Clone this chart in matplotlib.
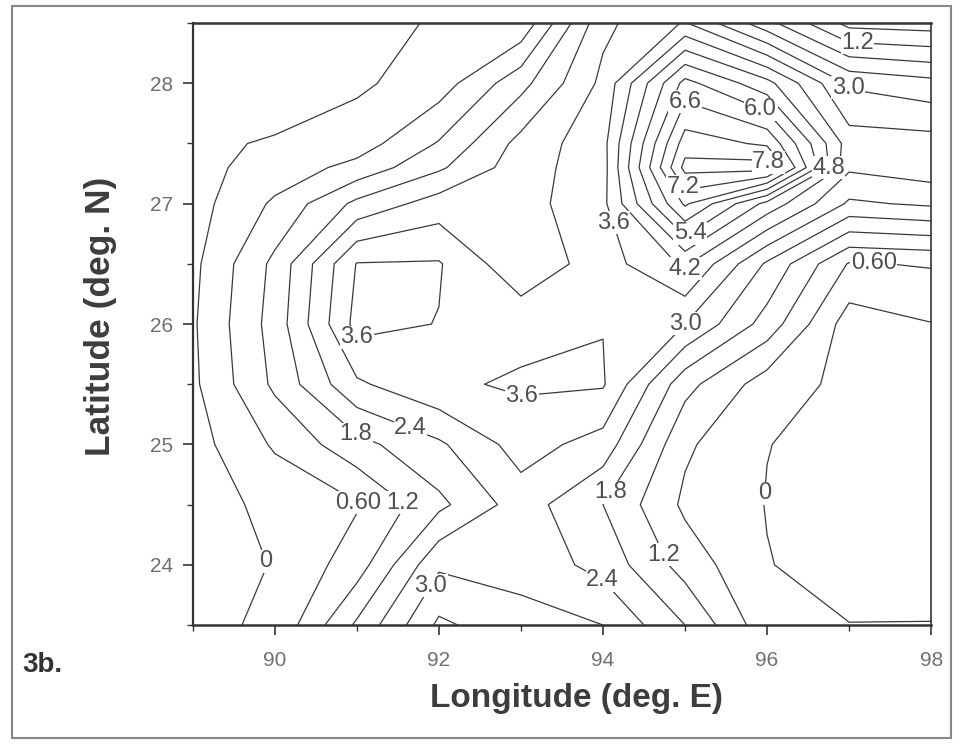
import numpy as np
import matplotlib
matplotlib.use("Agg")
import matplotlib.pyplot as plt
from matplotlib.patches import Rectangle
from matplotlib.ticker import MultipleLocator

plt.rcParams['font.family'] = ['Liberation Sans', 'DejaVu Sans']

# grid (deg E, deg N)
lon = [89, 90, 91, 92, 93, 94, 95, 96, 97, 98]
lat = [23.5, 24.0, 24.5, 25.0, 25.5, 26.0, 26.5, 27.0, 27.3, 27.5, 28.0, 28.5]

z_235 = [-0.15, 0.10, 1.90, 3.72, 3.20, 3.00, 1.80, 0.20, 0.01, 0.02]
z_240 = [-0.50, 0.05, 0.90, 2.90, 2.80, 2.19, 0.95, 0.02, -0.20, -0.30]
z_245 = [-0.26, 0.15, 0.55, 1.65, 2.70, 1.80, 0.48, -0.02, -0.20, -0.30]
z_250 = [-0.25, 0.68, 1.60, 2.30, 3.26, 2.75, 0.70, 0.01, -0.15, -0.25]
z_255 = [-0.12, 1.32, 2.90, 3.50, 3.68, 3.66, 1.40, 0.30, -0.16, -0.20]
z_260 = [-0.08, 1.45, 3.80, 3.58, 3.40, 3.58, 3.00, 1.55, -0.30, -0.02]
z_265 = [-0.15, 1.35, 3.63, 3.65, 2.54, 3.32, 4.30, 2.30, 0.55, 0.65]
z_270 = [-0.25, 0.70, 1.95, 2.68, 2.75, 3.45, 6.70, 4.60, 2.90, 3.10]
z_273 = [-0.19, 0.25, 0.79, 1.70, 2.73, 3.36, 8.00, 8.10, 3.70, 3.95]
z_275 = [-0.30, 0.15, 0.30, 1.25, 2.60, 3.40, 7.50, 7.10, 3.90, 3.85]
z_280 = [-1.50, -0.90, -0.10, 0.30, 1.60, 3.15, 6.20, 5.00, 2.90, 2.60]
z_285 = [-1.80, -1.20, -0.20, 0.06, 0.14, 2.85, 3.65, 2.00, 0.40, 0.30]

levels = [0, 0.6, 1.2, 1.8, 2.4, 3.0, 3.6, 4.2, 4.8, 5.4, 6.0, 6.6, 7.2, 7.8]
level_text = ['0', '0.60', '1.2', '1.8', '2.4', '3.0', '3.6', '4.2', '4.8',
              '5.4', '6.0', '6.6', '7.2', '7.8']

# where the labels sit on the original
label_spots = [(89.97, 24.05), (95.9, 24.6), (91.05, 24.55), (97.3, 26.47),
               (91.6, 24.55), (94.66, 24.06), (97.1, 28.32), (91.01, 25.1),
               (94.05, 24.62), (91.67, 25.16), (94.0, 23.88), (91.99, 23.79),
               (95.02, 25.99), (96.91, 27.93), (91.0, 25.88), (93.01, 25.41),
               (94.12, 26.84), (94.98, 26.42), (96.75, 27.3), (95.02, 26.8),
               (95.95, 27.83), (95.02, 27.88), (94.98, 27.14), (96.01, 27.34)]

Z = np.array([z_235, z_240, z_245, z_250, z_255, z_260, z_265, z_270,
              z_273, z_275, z_280, z_285])
X, Y = np.meshgrid(lon, lat)

fig = plt.figure(figsize=(9.59, 7.45), dpi=100)
ax = fig.add_axes([0.201, 0.161, 0.770, 0.808])

cs = ax.contour(X, Y, Z, levels=levels, colors='#3a3a3a', linewidths=0.9)
labels = ax.clabel(cs, fmt=dict(zip(levels, level_text)), manual=label_spots,
                   inline=False, fontsize=17, colors='#505050')
for t in labels:
    t.set_rotation(0)
    t.set_bbox(dict(facecolor='white', edgecolor='none', pad=0.3))

ax.set_xlim(89, 98)
ax.set_ylim(23.5, 28.5)
ax.set_xticks([90, 92, 94, 96, 98])
ax.xaxis.set_minor_locator(MultipleLocator(1))
ax.yaxis.set_major_locator(MultipleLocator(1))
ax.yaxis.set_minor_locator(MultipleLocator(0.5))
ax.tick_params(which='major', direction='out', length=7, width=1.2,
               labelsize=15, labelcolor='#707070', color='#333333')
ax.tick_params(which='minor', direction='out', length=4, width=1.0,
               color='#333333')
ax.tick_params(axis='x', pad=12)
ax.tick_params(axis='y', pad=7)
for side in ['left', 'bottom', 'top', 'right']:
    ax.spines[side].set_color('#333333')
ax.spines['left'].set_linewidth(1.6)
ax.spines['bottom'].set_linewidth(1.8)
ax.spines['top'].set_linewidth(1.8)
ax.spines['right'].set_linewidth(1.2)

ax.set_xlabel('Longitude (deg. E)', fontsize=24, fontweight='bold',
              color='#3d3d3d')
ax.set_ylabel('Latitude (deg. N)', fontsize=25.5, fontweight='bold',
              color='#3d3d3d')
ax.xaxis.set_label_coords(0.52, -0.096)
ax.yaxis.set_label_coords(-0.103, 0.513)

fig.text(0.023, 0.107, '3b.', fontsize=20, fontweight='bold', color='#333333',
         va='center')

# page border of the scan
fig.patches.append(Rectangle((0.012, 0.01), 0.98, 0.982, transform=fig.transFigure,
                             fill=False, edgecolor='#888888', linewidth=1.5))

fig.savefig('out.png', dpi=100)
